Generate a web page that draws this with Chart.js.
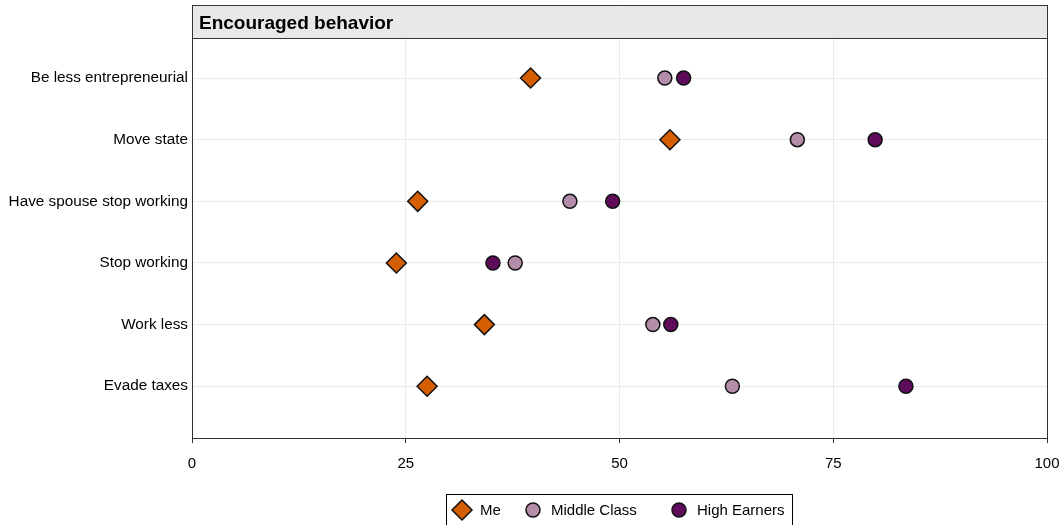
<!DOCTYPE html>
<html>
<head>
<meta charset="utf-8">
<script src="https://cdn.jsdelivr.net/npm/chart.js@4"></script>
<style>
  html, body { margin: 0; padding: 0; background: #fff; }
  #wrap { width: 1062px; height: 525px; }
</style>
</head>
<body>
<div id="wrap"><canvas id="dotChart"></canvas></div>
<script>
// categories top to bottom
const behaviors = ['Be less entrepreneurial', 'Move state', 'Have spouse stop working', 'Stop working', 'Work less', 'Evade taxes'];
const seriesNames = ['Me', 'Middle Class', 'High Earners'];
const meVals = [39.6, 55.9, 26.4, 23.9, 34.2, 27.5];
const middleVals = [55.3, 70.8, 44.2, 37.8, 53.9, 63.2];
const highVals = [57.5, 79.9, 49.2, 35.2, 56.0, 83.5];
const xTicks = [0, 25, 50, 75, 100];
const panelTitle = 'Encouraged behavior';

const fontFam = '"Liberation Sans", Arial, sans-serif';
Chart.defaults.font.family = fontFam;
Chart.defaults.color = '#000';

var toPoints = function(vals) {
	return vals.map((v, i) => ({ x: v, y: i }));
};

// strip header + panel border
const panelPlugin = {
	id: 'panel',
	afterDraw(chart) {
		const ctx = chart.ctx;
		const a = chart.chartArea;
		ctx.save();
		ctx.fillStyle = '#e8e8e8';
		ctx.fillRect(a.left, 5, a.right - a.left, a.top - 5);
		ctx.strokeStyle = '#333';
		ctx.lineWidth = 1;
		ctx.beginPath();
		ctx.moveTo(a.left, 5.5); ctx.lineTo(a.right + 0.5, 5.5);
		ctx.moveTo(a.left, a.top + 0.5); ctx.lineTo(a.right, a.top + 0.5);
		ctx.moveTo(a.right + 0.5, 5); ctx.lineTo(a.right + 0.5, a.bottom + 1);
		ctx.moveTo(a.left + 0.5, 5); ctx.lineTo(a.left + 0.5, a.top);
		ctx.stroke();
		ctx.fillStyle = '#000';
		ctx.font = 'bold 19px ' + fontFam;
		ctx.textBaseline = 'middle';
		ctx.fillText(panelTitle, a.left + 7, (a.top + 5) / 2 + 2);
		ctx.restore();
	}
};

// boxed legend under the plot
const legendPlugin = {
	id: 'boxLegend',
	afterDraw(chart) {
		const ctx = chart.ctx;
		const xs = [462, 533, 679];
		const y = 510;
		ctx.save();
		ctx.strokeStyle = '#000';
		ctx.lineWidth = 1;
		ctx.strokeRect(446.5, 494.5, 346, 40);
		ctx.font = '15px ' + fontFam;
		ctx.textBaseline = 'middle';
		chart.data.datasets.forEach((ds, i) => {
			ctx.fillStyle = ds.backgroundColor;
			ctx.strokeStyle = ds.borderColor;
			ctx.lineWidth = ds.borderWidth;
			Chart.helpers.drawPoint(ctx, { pointStyle: ds.pointStyle, radius: ds.pointRadius, borderWidth: ds.borderWidth }, xs[i], y);
			ctx.fillStyle = '#000';
			ctx.fillText(ds.label, xs[i] + 18, y + 1);
		});
		ctx.restore();
	}
};

const ctx = document.getElementById('dotChart').getContext('2d');
const dotChart = new Chart(ctx, {
	type: 'scatter',
	data: {
		datasets: [{
			label: seriesNames[0],
			data: toPoints(meVals),
			pointStyle: 'rectRot',
			pointRadius: 10,
			backgroundColor: '#d55e00',
			borderColor: '#111',
			borderWidth: 1.5
		}, {
			label: seriesNames[1],
			data: toPoints(middleVals),
			pointStyle: 'circle',
			pointRadius: 7,
			backgroundColor: '#b48daa',
			borderColor: '#111',
			borderWidth: 1.5
		}, {
			label: seriesNames[2],
			data: toPoints(highVals),
			pointStyle: 'circle',
			pointRadius: 7,
			backgroundColor: '#5e0b5c',
			borderColor: '#111',
			borderWidth: 1.5
		}]
	},
	options: {
		responsive: true,
		maintainAspectRatio: false,
		animation: false,
		layout: { padding: { top: 38, right: 15, left: 0, bottom: 0 } },
		plugins: {
			legend: { display: false },
			tooltip: { enabled: false }
		},
		scales: {
			x: {
				type: 'linear',
				min: 0,
				max: 100,
				afterBuildTicks: function(scale) { scale.ticks = xTicks.map(v => ({ value: v })); },
				afterFit: function(scale) {
					scale.height = 87;
					scale.paddingLeft = 0;
					scale.paddingRight = 0;
				},
				grid: { color: '#ebebeb', tickColor: '#333', tickLength: 5 },
				border: { color: '#333', width: 1 },
				ticks: { font: { size: 15 }, padding: 12, color: '#000' }
			},
			y: {
				type: 'linear',
				reverse: true,
				min: -0.65,
				max: 5.84,
				afterBuildTicks: function(scale) { scale.ticks = behaviors.map((b, i) => ({ value: i })); },
				afterFit: function(scale) { scale.width = 192; },
				grid: { color: '#ebebeb', drawTicks: false },
				border: { color: '#333', width: 1 },
				ticks: {
					font: { size: 15.3 },
					padding: 4,
					color: '#000',
					callback: function(v) { return behaviors[v]; }
				}
			}
		}
	},
	plugins: [panelPlugin, legendPlugin]
});
</script>
</body>
</html>
